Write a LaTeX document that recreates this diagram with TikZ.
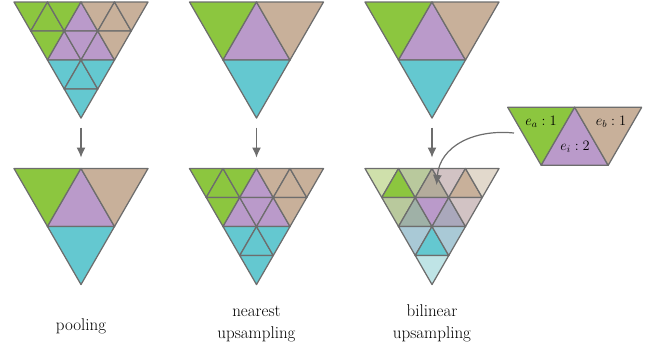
\documentclass[tikz,border=0pt]{standalone}
\usetikzlibrary{arrows.meta}
\definecolor{edgec}{HTML}{6D6D6D}
\definecolor{cG}{HTML}{8CC63F}
\definecolor{cP}{HTML}{BA9ACA}
\definecolor{cT}{HTML}{C8B09A}
\definecolor{cC}{HTML}{64C8D0}
\definecolor{bA}{HTML}{CFE0AB}
\definecolor{bB}{HTML}{B9C99D}
\definecolor{bD}{HTML}{B4AC9C}
\definecolor{bE}{HTML}{D2C3C4}
\definecolor{bF}{HTML}{E2D9CC}
\definecolor{bH}{HTML}{9FB1A7}
\definecolor{bI}{HTML}{AAA8BC}
\definecolor{bJ}{HTML}{A9C9D6}
\definecolor{bK}{HTML}{BFE4E6}
\tikzset{
  tri/.style={draw=edgec, line width=1.25pt, line join=round},
  arr/.style={draw=edgec, line width=1.2pt, -{Latex[length=10pt,width=9pt]}},
  lbl/.style={anchor=base, inner sep=0pt, font=\fontsize{17}{22}\selectfont},
  mlbl/.style={inner sep=0pt, font=\fontsize{14.4}{16}\selectfont}
}
% row of triangles: #1 left x, #2 top y, #3 row index, #4 side, #5 colours (down,up,down,...)
\newcommand\trirow[5]{%
  \foreach \col [count=\i from 0] in {#5} {
    \pgfmathsetmacro\xx{#1+#3*#4/2+floor(\i/2)*#4}
    \pgfmathsetmacro\yy{#2+#3*#4*0.8660254}
    \pgfmathsetmacro\hh{#4*0.8660254}
    \ifodd\i
      \filldraw[tri,fill=\col] (\xx+#4,\yy) -- ++(#4/2,\hh) -- ++(-#4,0) -- cycle;
    \else
      \filldraw[tri,fill=\col] (\xx,\yy) -- ++(#4,0) -- ++(-#4/2,\hh) -- cycle;
    \fi
  }}
\newcommand\coarsetri[2]{%
  \pgfmathsetmacro\LL{#1-67}
  \trirow{\LL}{#2}{0}{67}{cG,cP,cT}
  \trirow{\LL}{#2}{1}{67}{cC}}
\newcommand\finetri[2]{%
  \pgfmathsetmacro\LL{#1-67}
  \trirow{\LL}{#2}{0}{33.5}{cG,cG,cG,cP,cT,cT,cT}
  \trirow{\LL}{#2}{1}{33.5}{cG,cP,cP,cP,cT}
  \trirow{\LL}{#2}{2}{33.5}{cC,cC,cC}
  \trirow{\LL}{#2}{3}{33.5}{cC}}
\begin{document}
\begin{tikzpicture}[x=1pt,y=-1pt]
\useasboundingbox (0,0) rectangle (653,349);
% top row
\finetri{81}{2}
\coarsetri{256.5}{2}
\coarsetri{432}{2}
% bottom row
\coarsetri{81}{168.5}
\finetri{256.5}{168.5}
\pgfmathsetmacro\LL{432-67}
\trirow{\LL}{168.5}{0}{33.5}{bA,cG,bB,bD,bE,cT,bF}
\trirow{\LL}{168.5}{1}{33.5}{bB,bH,cP,bI,bE}
\trirow{\LL}{168.5}{2}{33.5}{bJ,cC,bJ}
\trirow{\LL}{168.5}{3}{33.5}{bK}
% side trapezoid
\trirow{507.7}{107.3}{0}{67}{cG,cP,cT}
\node[mlbl] (ea) at (541,121.5) {$e_a : 1$};
\node[mlbl] (ei) at (575,146.5) {$e_i : 2$};
\node[mlbl] (eb) at (611,121.5) {$e_b : 1$};
% arrows
\coordinate (s1) at (81,127.5);   \coordinate (t1) at (81,157.5);
\coordinate (s2) at (256.5,127.5); \coordinate (t2) at (256.5,157.5);
\coordinate (s3) at (432,127.5);  \coordinate (t3) at (432,157.5);
\draw[arr] (s1) -- (t1);
\draw[arr] (s2) -- (t2);
\draw[arr] (s3) -- (t3);
\coordinate (cs) at (514,133);
\coordinate (ce) at (436.5,185);
\draw[arr] (cs) .. controls (474,129) and (440,146) .. (ce);
% labels
\node[lbl] (pool) at (81,330) {pooling};
\node[lbl] (near1) at (256.5,316) {nearest};
\node[lbl] (near2) at (256.5,338) {upsampling};
\node[lbl] (bil1) at (432,316) {bilinear};
\node[lbl] (bil2) at (432,338) {upsampling};
\end{tikzpicture}
\end{document}
